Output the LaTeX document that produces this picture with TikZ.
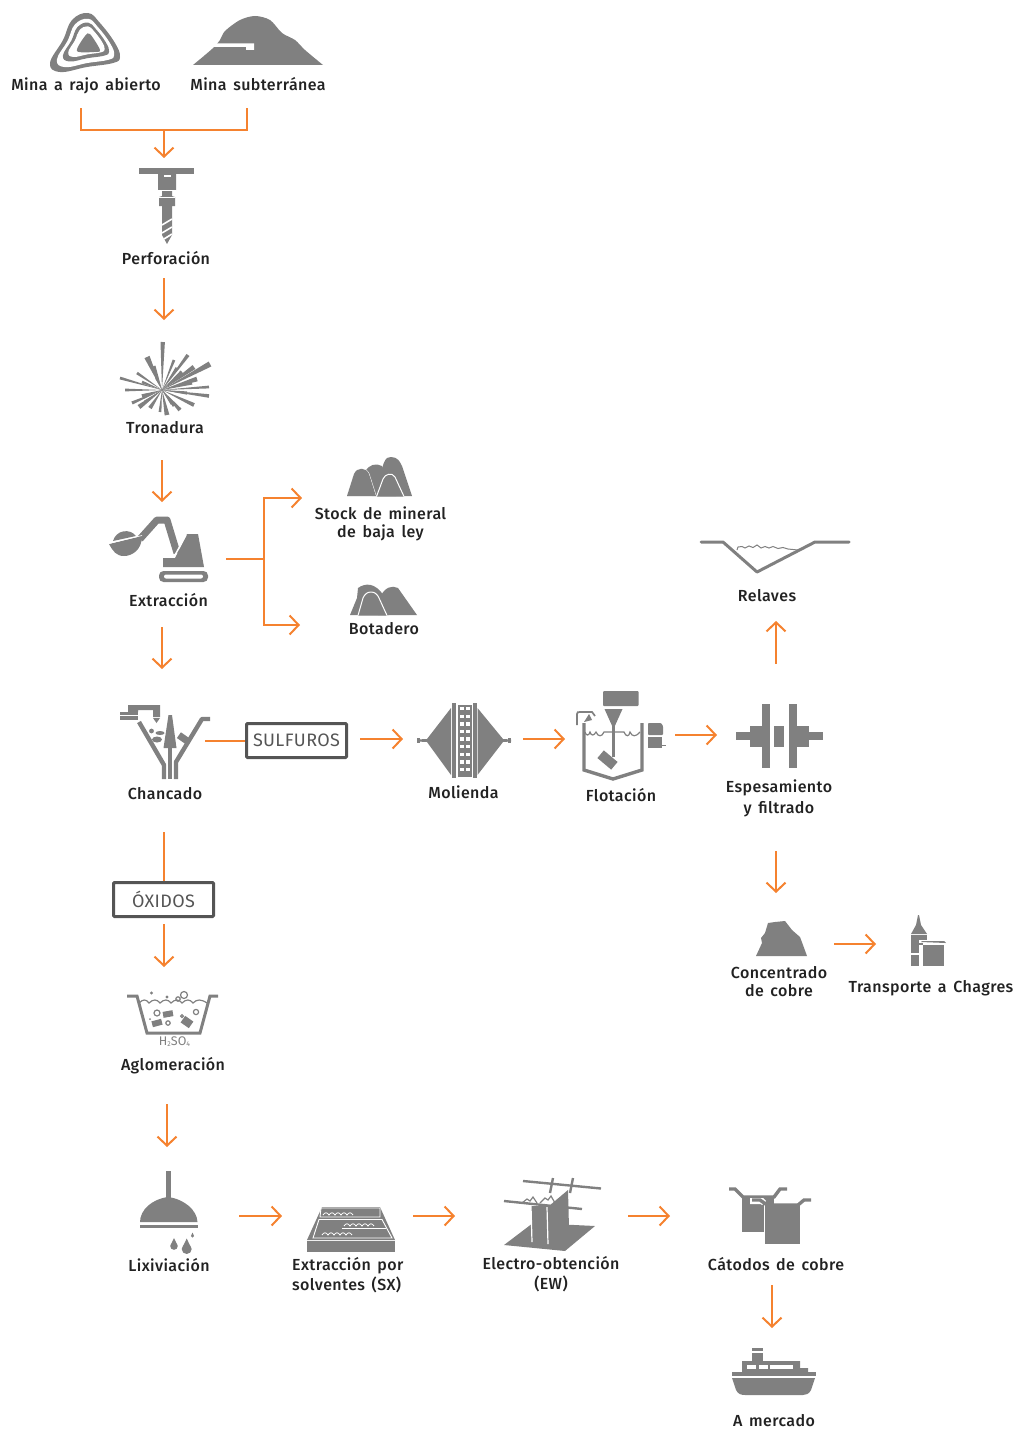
\documentclass[tikz,border=0pt]{standalone}
\usepackage{fontspec}
\setmainfont{Fira Sans}[UprightFont=* Medium,LetterSpace=2.5,WordSpace=1.5]
\newfontfamily\boxfont{Fira Sans}[LetterSpace=2]
\usetikzlibrary{arrows.meta,calc}
\definecolor{flowc}{HTML}{F5822F}
\definecolor{ico}{HTML}{808080}
\definecolor{txt}{HTML}{222222}
\definecolor{boxc}{HTML}{555555}
\tikzset{
  lbl/.style={text=txt,font=\fontsize{16}{19}\selectfont,align=center,inner sep=0pt},
  flow/.style={draw=flowc,line width=2pt,-{Straight Barb[length=9pt,width=19pt,line width=2pt]}},
  flowp/.style={draw=flowc,line width=2pt},
  tag/.style={draw=boxc,line width=3pt,rounded corners=1pt,text=boxc,inner sep=0pt,font=\boxfont\fontsize{18}{21}\selectfont},
  cut/.style={draw=white,line width=1pt,fill=ico},
  wht/.style={fill=white,draw=none},
  whl/.style={draw=white,line width=1pt,fill=none},
}
\newcommand{\dropicon}[3]{\fill[ico] (#1,#2) circle (#3) (#1-#3,#2) -- (#1,#2-2.1*#3) -- (#1+#3,#2) -- cycle;}
\begin{document}
\begin{tikzpicture}[x=1pt,y=-1pt]
\useasboundingbox (0,0) rectangle (1015,1429);
% ---------- Mina a rajo
\begin{scope}[shift={(88,45)}]
 \def\blob{plot[smooth cycle,tension=.7] coordinates {(-38,18)(-25,-5)(-16,-25)(0,-32)(12,-22)(27,-2)(32,12)(25,18)(-1,22)(-28,27)}}
 \fill[ico] \blob;
 \begin{scope}[scale=.82]\fill[white] \blob;\end{scope}
 \begin{scope}[scale=.66,shift={(0,-2)}]\fill[ico] \blob;\end{scope}
 \begin{scope}[scale=.52,shift={(0,-4)}]\fill[white] \blob;\end{scope}
 \fill[ico] plot[smooth cycle,tension=.5] coordinates {(-11,6)(-3,-9)(2,-11)(12,5)(6,7)};
\end{scope}
% ---------- Mina subterranea
\fill[ico] plot[smooth,tension=.5] coordinates {(193,65)(212,49)(220,40)(225,31)(240,20)(255,16)(270,20)(282,33)(295,40)(305,50)(323,65)} -- cycle;
\fill[wht] (207,43.5) -- (248,43.5) -- (254,43.5) -- (254,50) -- (246,50) -- (246,47) -- (212,47) -- cycle;
% ---------- Perforacion
\fill[ico] (139,168) rectangle (194,174);
\fill[ico] (158,174) -- (176,174) -- (176,190) -- (172,190) -- (172,196) -- (175,197) -- (175,206) -- (172,206) -- (172,235) -- (167,244) -- (162,235) -- (162,206) -- (159,206) -- (159,197) -- (162,196) -- (162,190) -- (158,190) -- cycle;
\fill[wht] (164,175) rectangle (171,177);
\draw[whl,line width=.8pt] (158,190.5) -- (176,190.5) (159,197) -- (175,197);
\draw[whl,line width=1.6pt] (162,225) -- (172,219) (162,233) -- (172,227) (164,239) -- (172,234);
% ---------- Tronadura
\coordinate (tc) at (162,390);
\foreach \dx/\dy/\w in {.7/-48/2.2,-15/-33/2.8,-8/-24/1.5,12/-30/1.4,26/-35/1.8,20/-18/2,15/-22/1.6,32/-23/2.4,48/-26/2.8,35/-11/2.4,30/-7/1.6,47/-3/1.4,47/6/1.8,25/3/1.6,32/15/2,18/20/2,12/16/1.4,5/25/2.4,-2/22/1.4,-12/18/2,-23/17/2.4,-17/12/1.6,-30/13/1.6,-37/0/1.4,-42/-12/1.4,-25/-17/1.4,-20/-8/1.4,-20/6/1.8,10/14/1.4,-6/-12/1}{
  \coordinate (tp) at ($(tc)+(\dx,\dy)$);
  \fill[ico] (tc) -- ($(tp)!\w pt!90:(tc)$) -- ($(tp)!\w pt!-90:(tc)$) -- cycle;
}
% ---------- Excavadora
\draw[ico,line width=7pt,line join=round] (140,539) -- (157,520) -- (167,520) -- (177,553);
\fill[ico] (109,544) -- (142,536) .. controls (142,550) and (132,556) .. (124,556) .. controls (116,556) and (113,551) .. cycle;
\fill[ico] (113,541) .. controls (116,530) and (130,528) .. (136,536) -- cycle;
\draw[white,line width=.7pt] (109,543.5) -- (142,535.5);
\fill[ico] (187,534) -- (198,534) -- (204,567) -- (163,567) -- (163,558) -- (175,558) -- cycle;
\draw[white,line width=1.5pt] (174,557) -- (186,535);
\fill[ico,rounded corners=4.5pt] (159,571) rectangle (208,582);
\fill[white,rounded corners=2pt] (164,574.5) rectangle (203,578.5);
% ---------- Stock
\fill[ico] (365,472) .. controls (369,464) and (376,463) .. (382,466) -- (396,496) -- (372,496) -- cycle;
\fill[ico] (380,496) .. controls (380,462) and (386,456) .. (391,457) .. controls (398,457) and (400,462) .. (402,466) -- (412,496) -- cycle;
\fill[cut] (347,496) -- (354,474) .. controls (357,467) and (366,467) .. (369,474) -- (376,496) -- cycle;
\fill[ico] (347,496) -- (354,474) .. controls (357,467) and (366,467) .. (369,474) -- (376,496) -- cycle;
\draw[cut] (376.5,496.5) -- (383,479) .. controls (385,474) and (392,472) .. (395,477) -- (404,496.5);
% ---------- Botadero
\fill[ico] (350,615) -- (357,598) -- (358,588) .. controls (365,583) and (375,582) .. (384,596) -- (389,615) -- cycle;
\fill[ico] (378,615) -- (380,597) .. controls (385,587) and (392,585) .. (398,588) -- (417,615) -- cycle;
\draw[cut] (358,615.5) -- (363,598) .. controls (366,590) and (376,590) .. (379,598) -- (387,615.5);
% ---------- Chancado
\draw[ico,line width=4.4pt,line join=bevel] (139,722) -- (164,765) -- (164,779);
\draw[ico,line width=4.4pt,line join=bevel] (210,719) -- (202,719) -- (176,762) -- (176,779);
\fill[ico] (168.5,715) -- (172,715) -- (176.5,748) -- (163.5,748) -- cycle;
\fill[ico] (168.3,748) rectangle (171.7,779);
\fill[ico] (120,712) rectangle (138,720);
\fill[wht] (120,714.5) rectangle (138,716);
\fill[ico] (128,705) -- (160,705) -- (160,717) -- (153,717) -- (153,710) -- (138,710) -- (138,712) -- (128,712) -- cycle;
\fill[ico] (153,718) -- (160,718) -- (156.5,723) -- cycle;
\fill[ico] (151.5,731) circle (2.4) (160,733) ellipse (4.5 and 2) (157,739.5) ellipse (5 and 3);
\fill[ico,rotate around={-35:(183,738)}] (178,734.5) rectangle (188,741.5);
% ---------- Molienda
\fill[ico] (451,708) -- (451,775) -- (427,742) -- (417,741.5) -- (417,739.5) -- (427,739) -- cycle;
\fill[ico] (477.5,708) -- (477.5,775) -- (503,742) -- (511,741.5) -- (511,739.5) -- (503,739) -- cycle;
\fill[ico] (417,738) rectangle (420,743);
\fill[ico] (508,738) rectangle (511,743);
\fill[ico] (451.5,703) rectangle (455.5,778);
\fill[ico] (473,703) rectangle (476.5,778);
\fill[ico] (458,705) rectangle (472,777);
\foreach \yy in {707,714.6,722.2,729.8,737.4,745,752.6,760.2,767.8}{
  \fill[wht] (460,\yy) rectangle (464.2,\yy+3.4);
  \fill[wht] (465.8,\yy) rectangle (470,\yy+3.4);
}
% ---------- Flotacion
\fill[ico,rounded corners=1pt] (603,691) rectangle (638.5,706);
\fill[ico] (604.5,709) -- (622.5,709) -- (613.5,729) -- cycle;
\fill[ico] (612.3,725) rectangle (614.7,757);
\fill[ico,rotate around={-40:(607.5,760)}] (598.5,755) rectangle (616.5,765);
\draw[ico,line width=3.4pt,line join=miter] (584,723) -- (584,770) -- (613,779) -- (642,770) -- (642,723);
\draw[ico,line width=1.2pt] (585,732) .. controls (586,736) and (589,736) .. (590,732) .. controls (591,736) and (594,736) .. (596,732) .. controls (598,737) and (602,737) .. (604,732) -- (624,732) .. controls (626,737) and (629,737) .. (630,732) .. controls (632,737) and (636,737) .. (640,732);
\draw[ico,line width=1.7pt] (577,725) -- (577,714) .. controls (577,712) and (578,712) .. (580,712) -- (592,712) -- (595,716);
\fill[ico] (584,722) -- (589,714) -- (592,720) -- cycle;
\fill[ico,rounded corners=.8pt] (648,723) -- (661,723) -- (663,726) -- (663,735) -- (648,735) -- cycle;
\fill[ico] (648,737) rectangle (662,748);
\draw[ico,line width=.8pt] (660,745) -- (666,745);
% ---------- Espesamiento
\fill[ico] (736,732) rectangle (750,740);
\fill[ico] (750,726) rectangle (762,747);
\fill[ico] (762,704) rectangle (770,768);
\fill[ico] (774,726) rectangle (784,747);
\fill[ico] (789,704) rectangle (797,768);
\fill[ico] (797,726) rectangle (809,747);
\fill[ico] (809,732) rectangle (823,740);
% ---------- Relaves
\draw[ico,line width=3pt,line join=round,line cap=round] (701,542) -- (723,542) -- (757,572) -- (815,542) -- (849,542);
\draw[ico,line width=1pt] (737,550) -- (738,547) -- (742,546.5) -- (745,548) -- (749,546) -- (753,547.5) -- (757,545) -- (761,548) -- (765,546.5) -- (769,548) -- (773,546.5) -- (778,548.5) -- (783,547.5) -- (788,549) -- (798,550);
% ---------- Concentrado
\fill[ico] (756,956) -- (762,943) -- (761,938) -- (765,933) -- (768,923) -- (775,922) -- (785,921) -- (792,930) -- (800,937) -- (803,945) -- (807,956) -- cycle;
% ---------- Transporte
\fill[ico] (918,915) -- (919,915) -- (921,925) -- (927,934) -- (911,934) -- (916,925) -- cycle;
\fill[ico] (911,934.5) rectangle (927,953);
\fill[ico] (911,955) rectangle (922,966);
\fill[wht] (919,940) rectangle (947,968);
\fill[ico] (923,944.5) rectangle (943.5,966);
\fill[ico] (921,942) -- (922,941) -- (944,941) -- (946,943) -- cycle;
\fill[ico] (919,943) rectangle (923,945);
% ---------- Aglomeracion
\draw[ico,line width=3pt,line join=miter] (127,996) -- (137,996) -- (147,1033) -- (200,1033) -- (210,996) -- (218,996);
\draw[ico,line width=1.2pt] (139,1003) .. controls (143,999) and (146,999) .. (149,1003) .. controls (153,999) and (157,999) .. (160,1003) .. controls (164,999) and (168,999) .. (171,1003) .. controls (175,999) and (179,999) .. (182,1003) .. controls (186,999) and (190,999) .. (193,1003) .. controls (197,999) and (201,999) .. (207,1003);
\fill[ico] (151.5,993) circle (1.6) (167,997) circle (1.6);
\draw[ico,line width=1.2pt] (184,995) circle (3.5) (178,999) circle (2.2) (157,1013) circle (3) (196,1012) circle (2.6) (168,1023) circle (2.2) (182,1016) circle (1.4);
\fill[ico,rotate around={10:(168,1014)}] (163,1011) rectangle (173,1017);
\fill[ico,rotate around={15:(157,1023)}] (152,1020) rectangle (162,1026);
\fill[ico,rotate around={-35:(187,1022)}] (182,1018) rectangle (192,1026);
\fill[ico] (150,1019) circle (1);
\node[inner sep=0pt,text=ico] (h2so4) at (174.5,1042) {\boxfont\fontsize{12.5}{14}\selectfont H\raisebox{-.15ex}{\fontsize{7}{8}\selectfont 2}SO\raisebox{-.15ex}{\fontsize{7}{8}\selectfont 4}};
% ---------- Lixiviacion
\fill[ico] (165.8,1171) rectangle (171.3,1198);
\fill[ico] (140,1222) .. controls (140,1210) and (152,1199) .. (168,1197) .. controls (184,1199) and (197,1210) .. (197.5,1222) -- cycle;
\fill[ico] (140,1225) rectangle (197.5,1228);
\dropicon{174}{1246}{3.8}
\dropicon{186.7}{1249}{5}
\dropicon{192.5}{1236}{1.6}
% ---------- SX
\fill[ico] (322,1207) -- (380,1207) -- (395,1240) -- (307,1240) -- cycle;
\fill[ico] (307,1241) rectangle (395,1252);
\draw[white,line width=.8pt] (321,1205.5) -- (380,1205.5);
\draw[whl,line width=.9pt] (321,1208) -- (380,1208) -- (380,1217) -- (320,1217) -- cycle;
\draw[whl,line width=.9pt] (319,1219.5) -- (382,1219.5) -- (392,1238) -- (313,1238) -- cycle;
\draw[whl,line width=.9pt] (342,1228) -- (386,1228);
\foreach \xa/\yy in {323/1215,344/1226,322/1235}{
  \draw[white,line width=.8pt] (\xa,\yy) \foreach \k in {0,1,2,3,4} { .. controls +(2,-3) and +(-2,-3) .. ++(6,0) };
}
% ---------- EW
\fill[ico] (504,1245) -- (533,1223) -- (595,1226) -- (565,1251) -- cycle;
\fill[ico] (531,1206) -- (549,1206) -- (568,1190) -- (569,1228) -- (547,1243) -- (531,1240) -- cycle;
\draw[white,line width=1.2pt] (531,1206) -- (532,1242) (547,1207) -- (548,1244);
\draw[ico,line width=2.4pt] (523,1181) -- (601,1188.5);
\draw[ico,line width=2.4pt] (504,1201) -- (582,1209);
\draw[ico,line width=2.4pt] (553,1178) -- (550,1193);
\draw[ico,line width=2.4pt] (573,1178) -- (570,1193);
\draw[ico,line width=1.2pt] (522,1203) -- (527,1199) -- (530,1201) -- (533,1197) -- (537,1203);
\draw[ico,line width=1.2pt] (540,1203) -- (545,1198) -- (548,1200) -- (551,1196) -- (555,1203);
% ---------- Catodos
\fill[ico] (742,1197) rectangle (774,1232);
\draw[ico,line width=3.4pt] (729,1189) -- (735,1189) -- (743,1197) -- (774,1197) -- (780,1189) -- (787,1189);
\fill[cut] (764,1204) rectangle (800,1244);
\fill[ico] (765.5,1205) rectangle (798.5,1243.5);
\draw[white,line width=6pt] (750,1201) -- (762,1201) -- (764,1203);
\draw[ico,line width=3.4pt] (752,1200) -- (760,1200) -- (767,1205) -- (798,1205) -- (804,1200) -- (811,1200);
% ---------- Barco
\fill[ico] (732,1378) -- (815,1378) -- (811,1390) .. controls (809,1394) and (806,1395) .. (803,1395) -- (745,1395) .. controls (741,1395) and (738,1394) .. (736,1390) -- cycle;
\fill[ico] (731.5,1372) rectangle (816,1376);
\fill[ico] (742,1361) -- (800,1361) -- (800,1368) -- (808,1368) -- (808,1372) -- (742,1372) -- cycle;
\fill[ico] (752,1353) rectangle (763,1361);
\fill[ico] (752,1348) rectangle (763,1351);
\fill[wht] (747,1365) rectangle (756,1369);
\fill[wht] (759,1365) rectangle (767.5,1369);
\fill[wht] (770,1365) rectangle (793,1369);
% ---------- Labels
\node[lbl] (nrajo) at (86,86) {Mina a rajo abierto};
\node[lbl] (nsub) at (258,84.5) {Mina subterránea};
\node[lbl] (nperf) at (166,258.5) {Perforación};
\node[lbl] (ntron) at (165,427.5) {Tronadura};
\node[lbl] (nextr) at (168.5,600.5) {Extracción};
\node[lbl] (nstock) at (380.5,524) {Stock de mineral\\[-1pt]de baja ley};
\node[lbl] (nbota) at (384,629) {Botadero};
\node[lbl] (nchan) at (165,794) {Chancado};
\node[lbl] (nmol) at (463.5,792) {Molienda};
\node[lbl] (nflot) at (621,795) {Flotación};
\node[lbl] (nesp) at (779,798.5) {Espesamiento\\[2pt]y filtrado};
\node[lbl] (nrel) at (767,595.5) {Relaves};
\node[lbl] (ncon) at (779,982) {Concentrado\\[-1pt]de cobre};
\node[lbl] (ntrans) at (931,988.5) {Transporte a Chagres};
\node[lbl] (nagl) at (173,1066) {Aglomeración};
\node[lbl] (nlix) at (169,1265) {Lixiviación};
\node[lbl,align=left,anchor=west] (nsx) at (292,1275) {Extracción por\\[1pt]solventes (SX)};
\node[lbl] (new) at (551,1274) {Electro-obtención\\[1pt](EW)};
\node[lbl] (ncat) at (776,1264) {Cátodos de cobre};
\node[lbl] (nmer) at (774,1421) {A mercado};
\node[tag,minimum width=100pt,minimum height=34pt] (sulf) at (296.5,740.5) {SULFUROS};
\node[tag,minimum width=100pt,minimum height=34pt] (oxi) at (163.5,899.5) {ÓXIDOS};
% ---------- Connector ends
\foreach \nm/\px/\py in {ma/81/108,mb/81/130,mc/247/130,md/247/108,me/164/130,mf/164/158,
  pa/164/278,pb/164/320,ta/162/460,tb/162/502,xa/162/627,xb/162/669,
  ba/226/559,bb/264/559,bc/264/498,bd/302/498,be/264/625,bf/300/625,
  sa/205/741,sb/360/739,sc/403/739,ma2/523/739,mb2/565/739,fa/675/735,fb/717/735,
  ra/776/664,rb/776/621,ea/776/851,eb/776/893,ca/834/944,cb/876/944,
  oa/164/832,ob/164/924,oc/164/967,ga/167/1104,gb/167/1147,
  la/239/1216,lb/282/1216,va/413/1216,vb/455/1216,ua/628/1216,ub/670/1216,
  ka/772/1285,kb/772/1328}{\coordinate (\nm) at (\px,\py);}
\draw[flowp] (ma) -- (mb) -- (mc) -- (md);
\draw[flow] (me) -- (mf);
\draw[flow] (pa) -- (pb);
\draw[flow] (ta) -- (tb);
\draw[flow] (xa) -- (xb);
\draw[flowp] (ba) -- (bb);
\draw[flow] (bb) -- (bc) -- (bd);
\draw[flow] (bb) -- (be) -- (bf);
\draw[flowp] (sa) -- (sulf.west |- sa);
\draw[flow] (sb) -- (sc);
\draw[flow] (ma2) -- (mb2);
\draw[flow] (fa) -- (fb);
\draw[flow] (ra) -- (rb);
\draw[flow] (ea) -- (eb);
\draw[flow] (ca) -- (cb);
\draw[flowp] (oa) -- (oa |- oxi.north);
\draw[flow] (ob) -- (oc);
\draw[flow] (ga) -- (gb);
\draw[flow] (la) -- (lb);
\draw[flow] (va) -- (vb);
\draw[flow] (ua) -- (ub);
\draw[flow] (ka) -- (kb);
\end{tikzpicture}
\end{document}
